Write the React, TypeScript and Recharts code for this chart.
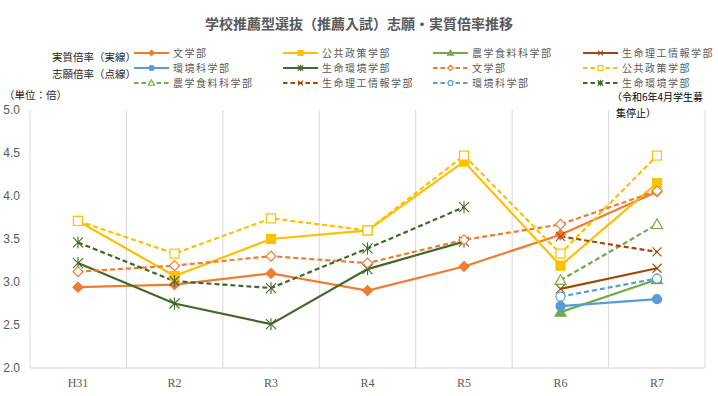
import { LineChart, Line, XAxis, YAxis, CartesianGrid } from "recharts";

// 年度
const categories = ["H31", "R2", "R3", "R4", "R5", "R6", "R7"];

// 実質倍率（実線）
const bunJ = [2.94, 2.97, 3.1, 2.9, 3.18, 3.55, 4.05];
const kokyoJ = [3.71, 3.07, 3.5, 3.6, 4.4, 3.19, 4.15];
const nogakuJ = [null, null, null, null, null, 2.65, 3.03];
const rikoJ = [null, null, null, null, null, 2.92, 3.16];
const kankyoJ = [null, null, null, null, null, 2.72, 2.8];
const seimeiJ = [3.22, 2.75, 2.51, 3.15, 3.47, null, null];

// 志願倍率（点線）
const bunS = [3.12, 3.19, 3.3, 3.22, 3.49, 3.67, 4.06];
const kokyoS = [3.71, 3.33, 3.74, 3.6, 4.47, 3.33, 4.47];
const nogakuS = [null, null, null, null, null, 3.02, 3.67];
const rikoS = [null, null, null, null, null, 3.53, 3.35];
const kankyoS = [null, null, null, null, null, 2.83, 3.04];
const seimeiS = [3.46, 3.01, 2.93, 3.39, 3.87, null, null];

const yTicks = [2, 2.5, 3, 3.5, 4, 4.5, 5];

const ORANGE = "#ED7D31";
const YELLOW = "#FFC000";
const GREEN = "#70AD47";
const BROWN = "#9E480E";
const BLUE = "#5B9BD5";
const DKGREEN = "#43682B";

type Shape = "diamond" | "square" | "triangle" | "x" | "circle" | "star";

type Series = {
  key: string;
  name: string;
  values: (number | null)[];
  color: string;
  dashed: boolean;
  shape: Shape;
};

// legend order (row by row, 4 columns)
const series: Series[] = [
  { key: "bunJ", name: "文学部", values: bunJ, color: ORANGE, dashed: false, shape: "diamond" },
  { key: "kokyoJ", name: "公共政策学部", values: kokyoJ, color: YELLOW, dashed: false, shape: "square" },
  { key: "nogakuJ", name: "農学食料科学部", values: nogakuJ, color: GREEN, dashed: false, shape: "triangle" },
  { key: "rikoJ", name: "生命理工情報学部", values: rikoJ, color: BROWN, dashed: false, shape: "x" },
  { key: "kankyoJ", name: "環境科学部", values: kankyoJ, color: BLUE, dashed: false, shape: "circle" },
  { key: "seimeiJ", name: "生命環境学部", values: seimeiJ, color: DKGREEN, dashed: false, shape: "star" },
  { key: "bunS", name: "文学部", values: bunS, color: ORANGE, dashed: true, shape: "diamond" },
  { key: "kokyoS", name: "公共政策学部", values: kokyoS, color: YELLOW, dashed: true, shape: "square" },
  { key: "nogakuS", name: "農学食料科学部", values: nogakuS, color: GREEN, dashed: true, shape: "triangle" },
  { key: "rikoS", name: "生命理工情報学部", values: rikoS, color: BROWN, dashed: true, shape: "x" },
  { key: "kankyoS", name: "環境科学部", values: kankyoS, color: BLUE, dashed: true, shape: "circle" },
  { key: "seimeiS", name: "生命環境学部", values: seimeiS, color: DKGREEN, dashed: true, shape: "star" },
];

const data = categories.map((cat, i) => {
  const row: Record<string, string | number | null> = { cat };
  series.forEach((s) => {
    row[s.key] = s.values[i];
  });
  return row;
});

const JP = '"Noto Sans CJK JP", "Noto Sans", sans-serif';

// marker shapes; filled = solid series, hollow = dashed series
function markerShape(shape: Shape, cx: number, cy: number, color: string, filled: boolean, s = 1) {
  const fill = filled ? color : "#fff";
  const sw = 1.2;
  switch (shape) {
    case "diamond": {
      const r = 5 * s;
      return (
        <polygon
          points={`${cx},${cy - r} ${cx + r},${cy} ${cx},${cy + r} ${cx - r},${cy}`}
          fill={fill}
          stroke={color}
          strokeWidth={sw}
        />
      );
    }
    case "square": {
      const r = 4.5 * s;
      return <rect x={cx - r} y={cy - r} width={r * 2} height={r * 2} fill={fill} stroke={color} strokeWidth={sw} />;
    }
    case "triangle": {
      const r = 5.5 * s;
      return (
        <polygon
          points={`${cx},${cy - r} ${cx + r},${cy + r * 0.75} ${cx - r},${cy + r * 0.75}`}
          fill={fill}
          stroke={color}
          strokeWidth={sw}
        />
      );
    }
    case "circle":
      return <circle cx={cx} cy={cy} r={4.5 * s} fill={fill} stroke={color} strokeWidth={sw} />;
    case "x": {
      const r = 4.5 * s;
      return (
        <g stroke={color} strokeWidth={1.1}>
          <line x1={cx - r} y1={cy - r} x2={cx + r} y2={cy + r} />
          <line x1={cx - r} y1={cy + r} x2={cx + r} y2={cy - r} />
        </g>
      );
    }
    case "star": {
      const r = 5 * s;
      return (
        <g stroke={color} strokeWidth={1.1}>
          <line x1={cx - r} y1={cy - r} x2={cx + r} y2={cy + r} />
          <line x1={cx - r} y1={cy + r} x2={cx + r} y2={cy - r} />
          <line x1={cx} y1={cy - r * 1.2} x2={cx} y2={cy + r * 1.2} />
        </g>
      );
    }
  }
}

const makeDot = (s: Series) => (props: any) => {
  const { cx, cy, index, value } = props;
  const k = `${s.key}-${index}`;
  if (cx == null || cy == null || value == null) return <g key={k} />;
  return <g key={k}>{markerShape(s.shape, cx, cy, s.color, !s.dashed)}</g>;
};

const legendCols = [133, 282, 432, 582];
const legendRows = [53, 68, 83];

function LegendBlock() {
  return (
    <>
      {series.map((s, i) => {
        const x = legendCols[i % 4];
        const y = legendRows[Math.floor(i / 4)];
        return (
          <div
            key={s.key}
            style={{ position: "absolute", left: x, top: y - 6, height: 12, display: "flex", alignItems: "center" }}
          >
            <svg width={37} height={12} style={{ display: "block" }}>
              <line
                x1={1}
                y1={6}
                x2={36}
                y2={6}
                stroke={s.color}
                strokeWidth={2.2}
                strokeDasharray={s.dashed ? "4.5 3" : undefined}
              />
              {markerShape(s.shape, 18.5, 6, s.color, !s.dashed, 0.55)}
            </svg>
            <span
              style={{
                marginLeft: 3,
                fontSize: 10,
                letterSpacing: 1.5,
                lineHeight: "12px",
                color: "#595959",
                fontFamily: JP,
                whiteSpace: "nowrap",
              }}
            >
              {s.name}
            </span>
          </div>
        );
      })}
    </>
  );
}

const noteStyle = {
  position: "absolute" as const,
  fontSize: 10.5,
  lineHeight: "13px",
  color: "#262626",
  whiteSpace: "nowrap" as const,
};

export default function App() {
  return (
    <div
      style={{
        position: "absolute",
        left: 0,
        top: 0,
        width: 718,
        height: 396,
        overflow: "hidden",
        background: "#fff",
        fontFamily: JP,
      }}
    >
      <div
        style={{
          position: "absolute",
          top: 14,
          left: 0,
          width: 718,
          textAlign: "center",
          fontSize: 14,
          lineHeight: "18px",
          fontWeight: "bold",
          color: "#595959",
          fontFamily: JP,
        }}
      >
        学校推薦型選抜（推薦入試）志願・実質倍率推移
      </div>

      <div style={{ ...noteStyle, left: 52, top: 50 }}>実質倍率（実線）</div>
      <div style={{ ...noteStyle, left: 52, top: 67 }}>志願倍率（点線）</div>
      <div style={{ ...noteStyle, left: 4, top: 88 }}>（単位：倍）</div>
      <div style={{ ...noteStyle, left: 612, top: 91, fontSize: 10, lineHeight: "12px", color: "#000" }}>
        （令和6年4月学生募
      </div>
      <div style={{ ...noteStyle, left: 616, top: 107, fontSize: 10, lineHeight: "12px", color: "#000" }}>
        集停止）
      </div>

      <LegendBlock />

      <div style={{ position: "absolute", left: 0, top: 0 }}>
        <LineChart width={718} height={396} data={data} margin={{ top: 110, right: 13, bottom: 0, left: 0 }}>
          <CartesianGrid
            horizontal={false}
            stroke="#D9D9D9"
            verticalCoordinatesGenerator={({ offset }: any) =>
              Array.from({ length: categories.length + 1 }, (_, i) => offset.left + (offset.width * i) / categories.length)
            }
          />
          <XAxis
            dataKey="cat"
            interval={0}
            padding={{ left: 48, right: 48 }}
            axisLine={{ stroke: "#D9D9D9" }}
            tickLine={false}
            tickMargin={4}
            height={28}
            tick={{ fontSize: 12, fill: "#595959", fontFamily: '"Liberation Serif", serif' }}
          />
          <YAxis
            domain={[2, 5]}
            ticks={yTicks}
            width={30}
            axisLine={false}
            tickLine={false}
            tickMargin={4}
            tickFormatter={(v: number) => v.toFixed(1)}
            tick={{ fontSize: 12, fill: "#595959", fontFamily: '"Liberation Sans", sans-serif' }}
          />
          {series.map((s) => (
            <Line
              key={s.key}
              dataKey={s.key}
              name={s.name}
              type="linear"
              stroke={s.color}
              strokeWidth={2.2}
              strokeDasharray={s.dashed ? "5 3" : undefined}
              dot={makeDot(s)}
              activeDot={false}
              connectNulls={false}
              isAnimationActive={false}
            />
          ))}
        </LineChart>
      </div>
    </div>
  );
}
